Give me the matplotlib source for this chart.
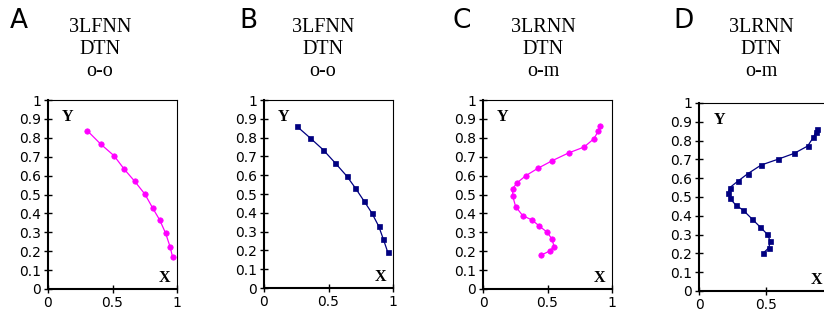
import numpy as np
import matplotlib
matplotlib.use("Agg")
import matplotlib.pyplot as plt
from matplotlib.ticker import FuncFormatter

# panel data
a_x = [0.304, 0.408, 0.512, 0.592, 0.672, 0.752, 0.811, 0.866, 0.912, 0.946, 0.966]
a_y = [0.838, 0.767, 0.705, 0.633, 0.570, 0.501, 0.429, 0.365, 0.295, 0.224, 0.169]

b_x = [0.255, 0.358, 0.459, 0.552, 0.642, 0.709, 0.776, 0.835, 0.889, 0.925, 0.959]
b_y = [0.860, 0.798, 0.735, 0.665, 0.595, 0.531, 0.462, 0.400, 0.329, 0.260, 0.191]

c_x = [0.907, 0.894, 0.860, 0.783, 0.664, 0.537, 0.424, 0.333, 0.266, 0.230,
       0.230, 0.253, 0.308, 0.380, 0.437, 0.494, 0.537, 0.550, 0.517, 0.447]
c_y = [0.862, 0.836, 0.795, 0.751, 0.720, 0.679, 0.638, 0.600, 0.563, 0.531,
       0.492, 0.436, 0.388, 0.365, 0.333, 0.302, 0.263, 0.224, 0.201, 0.178]

d_x = [0.884, 0.871, 0.854, 0.811, 0.710, 0.586, 0.464, 0.364, 0.288, 0.230,
       0.220, 0.230, 0.275, 0.331, 0.399, 0.457, 0.508, 0.533, 0.520, 0.477]
d_y = [0.863, 0.844, 0.818, 0.771, 0.732, 0.700, 0.670, 0.624, 0.583, 0.550,
       0.523, 0.493, 0.457, 0.429, 0.381, 0.340, 0.303, 0.264, 0.229, 0.200]

letters = ["A", "B", "C", "D"]
titles = ["3LFNN\nDTN\no-o", "3LFNN\nDTN\no-o", "3LRNN\nDTN\no-m", "3LRNN\nDTN\no-m"]
xticks = [0, 0.5, 1]
yticks = [0, 0.1, 0.2, 0.3, 0.4, 0.5, 0.6, 0.7, 0.8, 0.9, 1]

W, H = 824, 320
fig = plt.figure(figsize=(W / 100, H / 100), dpi=100)

# axes boxes in pixels: left, top, width, height
boxes = [(48, 100, 129, 189), (264, 100, 129, 188), (483, 100, 129, 189), (699, 103, 134, 188)]
series = [(a_x, a_y, "#ff00ff", "o"), (b_x, b_y, "#000080", "s"),
          (c_x, c_y, "#ff00ff", "o"), (d_x, d_y, "#000080", "s")]
letter_x = [10, 239, 452, 673]
title_x = [100, 323, 543, 761]
xlab_pos = [0.905, 0.905, 0.905, 0.88]

fmt = FuncFormatter(lambda v, p: "{:g}".format(v))

for i in range(4):
    l, t, w, h = boxes[i]
    ax = fig.add_axes([l / W, 1 - (t + h) / H, w / W, h / H])
    xs, ys, col, mk = series[i]
    ax.plot(xs, ys, color=col, lw=0.9, marker=mk, ms=3.9 if mk == "o" else 3.6,
            mec=col, mfc=col, mew=0.5, clip_on=False)
    ax.set_xlim(0, 1)
    ax.set_ylim(0, 1)
    ax.set_xticks(xticks)
    ax.set_yticks(yticks)
    ax.xaxis.set_major_formatter(fmt)
    ax.yaxis.set_major_formatter(fmt)
    ax.tick_params(direction="inout", length=6, width=1, labelsize=10, pad=2)
    for lab in ax.get_xticklabels() + ax.get_yticklabels():
        lab.set_family("DejaVu Sans")
    if i == 3:
        # the right end of the last panel runs off the page
        ax.get_xticklabels()[-1].set_visible(False)
    ax.spines["left"].set_linewidth(1.5)
    ax.spines["bottom"].set_linewidth(1.5)
    ax.spines["top"].set_linewidth(0.8)
    ax.spines["right"].set_linewidth(0.8)
    ax.text(0.15, 0.91, "Y", transform=ax.transAxes, ha="center", va="center",
            family="Liberation Serif", weight="bold", fontsize=11.5)
    ax.text(xlab_pos[i], 0.06, "X", transform=ax.transAxes, ha="center", va="center",
            family="Liberation Serif", weight="bold", fontsize=11.5)

    fig.text(letter_x[i] / W, 1 - 8 / H, letters[i], ha="left", va="top",
             family="DejaVu Sans", fontsize=19)
    fig.text(title_x[i] / W, 1 - 18 / H, titles[i], ha="center", va="top",
             family="Liberation Serif", fontsize=14.5, linespacing=1.2)

fig.savefig("out.png", dpi=100)
